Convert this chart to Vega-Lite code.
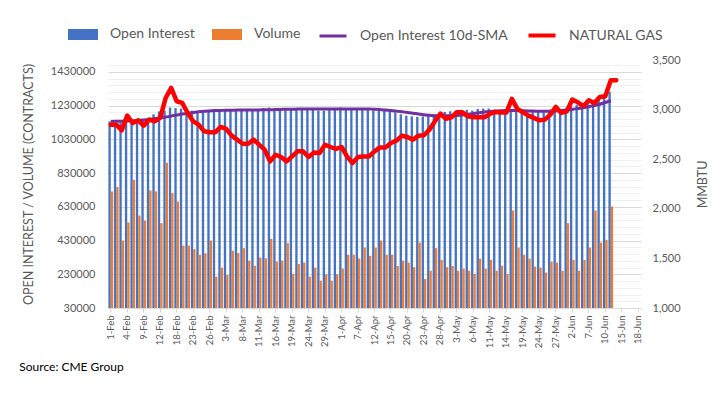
{
  "$schema": "https://vega.github.io/schema/vega-lite/v6.json",
  "autosize": {"type": "none"},
  "padding": {"left": 108, "top": 60, "right": 87, "bottom": 88},
  "width": 533,
  "height": 248,
  "background": "white",
  "config": {"font": "Lato", "view": {"stroke": null}, "axis": {"labelOverlap": false}},
  "title": {"text": "Source: CME Group", "orient": "bottom", "anchor": "start", "frame": "bounds", "font": "Lato", "fontSize": 12, "fontWeight": "normal", "color": "#000000", "dx": -3, "offset": 14},
  "data": {"values": [
    {"d":"1-Feb","oi":1136000,"vol":721000,"sma":1136000,"gas":2848},
    {"d":"2-Feb","oi":1130000,"vol":747000,"sma":1137000,"gas":2848},
    {"d":"3-Feb","oi":1128000,"vol":430000,"sma":1137000,"gas":2791},
    {"d":"4-Feb","oi":1140000,"vol":537000,"sma":1138000,"gas":2939},
    {"d":"5-Feb","oi":1145000,"vol":790000,"sma":1140000,"gas":2865},
    {"d":"8-Feb","oi":1150000,"vol":578000,"sma":1142000,"gas":2892},
    {"d":"9-Feb","oi":1148000,"vol":548000,"sma":1145000,"gas":2838},
    {"d":"10-Feb","oi":1152000,"vol":727000,"sma":1148000,"gas":2899},
    {"d":"11-Feb","oi":1178000,"vol":721000,"sma":1152000,"gas":2882},
    {"d":"12-Feb","oi":1195000,"vol":533000,"sma":1157000,"gas":2916},
    {"d":"16-Feb","oi":1200000,"vol":891000,"sma":1162000,"gas":3118},
    {"d":"17-Feb","oi":1218000,"vol":711000,"sma":1168000,"gas":3219},
    {"d":"18-Feb","oi":1215000,"vol":661000,"sma":1174000,"gas":3084},
    {"d":"19-Feb","oi":1212000,"vol":400000,"sma":1180000,"gas":3067},
    {"d":"22-Feb","oi":1205000,"vol":400000,"sma":1185000,"gas":2966},
    {"d":"23-Feb","oi":1200000,"vol":379000,"sma":1189000,"gas":2882},
    {"d":"24-Feb","oi":1198000,"vol":345000,"sma":1193000,"gas":2848},
    {"d":"25-Feb","oi":1200000,"vol":355000,"sma":1196000,"gas":2781},
    {"d":"26-Feb","oi":1198000,"vol":430000,"sma":1198000,"gas":2771},
    {"d":"1-Mar","oi":1200000,"vol":216000,"sma":1200000,"gas":2771},
    {"d":"2-Mar","oi":1205000,"vol":269000,"sma":1201000,"gas":2825},
    {"d":"3-Mar","oi":1205000,"vol":226000,"sma":1202000,"gas":2805},
    {"d":"4-Mar","oi":1205000,"vol":370000,"sma":1202000,"gas":2737},
    {"d":"5-Mar","oi":1205000,"vol":355000,"sma":1203000,"gas":2697},
    {"d":"8-Mar","oi":1208000,"vol":385000,"sma":1203000,"gas":2656},
    {"d":"9-Mar","oi":1205000,"vol":311000,"sma":1203000,"gas":2656},
    {"d":"10-Mar","oi":1205000,"vol":281000,"sma":1204000,"gas":2697},
    {"d":"11-Mar","oi":1210000,"vol":329000,"sma":1204000,"gas":2646},
    {"d":"12-Mar","oi":1215000,"vol":325000,"sma":1205000,"gas":2596},
    {"d":"15-Mar","oi":1218000,"vol":440000,"sma":1205000,"gas":2478},
    {"d":"16-Mar","oi":1212000,"vol":305000,"sma":1206000,"gas":2545},
    {"d":"17-Mar","oi":1212000,"vol":311000,"sma":1207000,"gas":2522},
    {"d":"18-Mar","oi":1212000,"vol":414000,"sma":1208000,"gas":2478},
    {"d":"19-Mar","oi":1210000,"vol":232000,"sma":1208000,"gas":2528},
    {"d":"22-Mar","oi":1208000,"vol":291000,"sma":1209000,"gas":2579},
    {"d":"23-Mar","oi":1205000,"vol":299000,"sma":1209000,"gas":2579},
    {"d":"24-Mar","oi":1205000,"vol":216000,"sma":1210000,"gas":2522},
    {"d":"25-Mar","oi":1205000,"vol":269000,"sma":1210000,"gas":2567},
    {"d":"26-Mar","oi":1200000,"vol":192000,"sma":1210000,"gas":2562},
    {"d":"29-Mar","oi":1200000,"vol":230000,"sma":1210000,"gas":2646},
    {"d":"30-Mar","oi":1205000,"vol":192000,"sma":1210000,"gas":2623},
    {"d":"31-Mar","oi":1210000,"vol":230000,"sma":1210000,"gas":2603},
    {"d":"1-Apr","oi":1218000,"vol":263000,"sma":1210000,"gas":2623},
    {"d":"5-Apr","oi":1215000,"vol":345000,"sma":1210000,"gas":2528},
    {"d":"6-Apr","oi":1210000,"vol":345000,"sma":1210000,"gas":2461},
    {"d":"7-Apr","oi":1208000,"vol":323000,"sma":1210000,"gas":2522},
    {"d":"8-Apr","oi":1205000,"vol":388000,"sma":1210000,"gas":2528},
    {"d":"9-Apr","oi":1205000,"vol":339000,"sma":1210000,"gas":2528},
    {"d":"12-Apr","oi":1205000,"vol":388000,"sma":1208000,"gas":2579},
    {"d":"13-Apr","oi":1200000,"vol":430000,"sma":1206000,"gas":2619},
    {"d":"14-Apr","oi":1198000,"vol":345000,"sma":1203000,"gas":2619},
    {"d":"15-Apr","oi":1195000,"vol":345000,"sma":1200000,"gas":2663},
    {"d":"16-Apr","oi":1190000,"vol":279000,"sma":1197000,"gas":2687},
    {"d":"19-Apr","oi":1178000,"vol":311000,"sma":1193000,"gas":2737},
    {"d":"20-Apr","oi":1170000,"vol":299000,"sma":1189000,"gas":2724},
    {"d":"21-Apr","oi":1166000,"vol":272000,"sma":1185000,"gas":2697},
    {"d":"22-Apr","oi":1163000,"vol":418000,"sma":1180000,"gas":2737},
    {"d":"23-Apr","oi":1165000,"vol":202000,"sma":1176000,"gas":2741},
    {"d":"26-Apr","oi":1170000,"vol":251000,"sma":1172000,"gas":2798},
    {"d":"27-Apr","oi":1175000,"vol":385000,"sma":1170000,"gas":2882},
    {"d":"28-Apr","oi":1185000,"vol":315000,"sma":1169000,"gas":2959},
    {"d":"29-Apr","oi":1192000,"vol":272000,"sma":1169000,"gas":2906},
    {"d":"30-Apr","oi":1196000,"vol":279000,"sma":1170000,"gas":2922},
    {"d":"3-May","oi":1200000,"vol":251000,"sma":1171000,"gas":2973},
    {"d":"4-May","oi":1205000,"vol":263000,"sma":1174000,"gas":2973},
    {"d":"5-May","oi":1205000,"vol":251000,"sma":1178000,"gas":2932},
    {"d":"6-May","oi":1200000,"vol":232000,"sma":1182000,"gas":2922},
    {"d":"7-May","oi":1210000,"vol":323000,"sma":1187000,"gas":2922},
    {"d":"10-May","oi":1212000,"vol":263000,"sma":1192000,"gas":2922},
    {"d":"11-May","oi":1212000,"vol":315000,"sma":1195000,"gas":2956},
    {"d":"12-May","oi":1205000,"vol":251000,"sma":1197000,"gas":2976},
    {"d":"13-May","oi":1200000,"vol":281000,"sma":1199000,"gas":2970},
    {"d":"14-May","oi":1205000,"vol":232000,"sma":1200000,"gas":2970},
    {"d":"17-May","oi":1205000,"vol":608000,"sma":1200000,"gas":3108},
    {"d":"18-May","oi":1200000,"vol":388000,"sma":1200000,"gas":3007},
    {"d":"19-May","oi":1195000,"vol":345000,"sma":1199000,"gas":2973},
    {"d":"20-May","oi":1190000,"vol":323000,"sma":1198000,"gas":2939},
    {"d":"21-May","oi":1193000,"vol":275000,"sma":1197000,"gas":2916},
    {"d":"24-May","oi":1190000,"vol":269000,"sma":1196000,"gas":2892},
    {"d":"25-May","oi":1190000,"vol":240000,"sma":1196000,"gas":2899},
    {"d":"26-May","oi":1195000,"vol":305000,"sma":1197000,"gas":2949},
    {"d":"27-May","oi":1200000,"vol":299000,"sma":1198000,"gas":3027},
    {"d":"28-May","oi":1205000,"vol":251000,"sma":1200000,"gas":2966},
    {"d":"1-Jun","oi":1212000,"vol":533000,"sma":1203000,"gas":2983},
    {"d":"2-Jun","oi":1225000,"vol":315000,"sma":1207000,"gas":3101},
    {"d":"3-Jun","oi":1235000,"vol":251000,"sma":1212000,"gas":3074},
    {"d":"4-Jun","oi":1240000,"vol":315000,"sma":1217000,"gas":3034},
    {"d":"7-Jun","oi":1248000,"vol":388000,"sma":1223000,"gas":3094},
    {"d":"8-Jun","oi":1255000,"vol":608000,"sma":1230000,"gas":3067},
    {"d":"9-Jun","oi":1265000,"vol":418000,"sma":1238000,"gas":3128},
    {"d":"10-Jun","oi":1278000,"vol":434000,"sma":1248000,"gas":3134},
    {"d":"11-Jun","oi":1312000,"vol":632000,"sma":1260000,"gas":3296},
    {"d":"14-Jun","gas":3296}
  ]},
  "encoding": {
    "x": {
      "field": "d", "type": "ordinal", "sort": null,
      "scale": {
        "domain": ["1-Feb","2-Feb","3-Feb","4-Feb","5-Feb","8-Feb","9-Feb","10-Feb","11-Feb","12-Feb","16-Feb","17-Feb","18-Feb","19-Feb","22-Feb","23-Feb","24-Feb","25-Feb","26-Feb","1-Mar","2-Mar","3-Mar","4-Mar","5-Mar","8-Mar","9-Mar","10-Mar","11-Mar","12-Mar","15-Mar","16-Mar","17-Mar","18-Mar","19-Mar","22-Mar","23-Mar","24-Mar","25-Mar","26-Mar","29-Mar","30-Mar","31-Mar","1-Apr","5-Apr","6-Apr","7-Apr","8-Apr","9-Apr","12-Apr","13-Apr","14-Apr","15-Apr","16-Apr","19-Apr","20-Apr","21-Apr","22-Apr","23-Apr","26-Apr","27-Apr","28-Apr","29-Apr","30-Apr","3-May","4-May","5-May","6-May","7-May","10-May","11-May","12-May","13-May","14-May","17-May","18-May","19-May","20-May","21-May","24-May","25-May","26-May","27-May","28-May","1-Jun","2-Jun","3-Jun","4-Jun","7-Jun","8-Jun","9-Jun","10-Jun","11-Jun","14-Jun","15-Jun","16-Jun","17-Jun","18-Jun"],
        "paddingInner": 0.15, "paddingOuter": 0.075
      },
      "axis": {
        "title": null,
        "values": ["1-Feb","4-Feb","9-Feb","12-Feb","18-Feb","23-Feb","26-Feb","3-Mar","8-Mar","11-Mar","16-Mar","19-Mar","24-Mar","29-Mar","1-Apr","7-Apr","12-Apr","15-Apr","20-Apr","23-Apr","28-Apr","3-May","6-May","11-May","14-May","19-May","24-May","27-May","2-Jun","7-Jun","10-Jun","15-Jun","18-Jun"],
        "labelAngle": -90, "labelFont": "Lato", "labelFontSize": 9.5, "labelColor": "#595959", "labelPadding": 3,
        "labelOverlap": false,
        "domainColor": "#d9d9d9", "tickColor": "#d9d9d9", "tickSize": 4, "grid": false
      }
    }
  },
  "layer": [
    {
      "layer": [
        {
          "transform": [{"filter": "isValid(datum.oi)"}, {"fold": ["oi", "vol"], "as": ["k", "v"]}],
          "mark": {"type": "bar", "clip": true},
          "encoding": {
            "xOffset": {"field": "k", "type": "nominal", "scale": {"domain": ["oi", "vol"], "paddingInner": 0, "paddingOuter": 0}},
            "y": {
              "field": "v", "type": "quantitative",
              "scale": {"domain": [30000, 1500000], "zero": false, "nice": false},
              "axis": {
                "title": "OPEN INTEREST / VOLUME (CONTRACTS)",
                "titleFont": "Lato", "titleFontSize": 12.5, "titleFontWeight": "normal", "titleColor": "#595959", "titlePadding": 15,
                "values": [30000,70000,110000,150000,190000,230000,270000,310000,350000,390000,430000,470000,510000,550000,590000,630000,670000,710000,750000,790000,830000,870000,910000,950000,990000,1030000,1070000,1110000,1150000,1190000,1230000,1270000,1310000,1350000,1390000,1430000,1470000],
                "labelExpr": "(datum.value - 30000) % 200000 === 0 ? format(datum.value, 'd') : ''",
                "labelOverlap": false,
                "labelFont": "Lato", "labelFontSize": 11, "labelColor": "#595959", "labelPadding": 13,
                "ticks": false, "tickSize": 0, "domain": false,
                "grid": true,
                "gridColor": {"condition": {"test": "(datum.value - 30000) % 200000 === 0", "value": "#d9d9d9"}, "value": "#f0f0f0"},
                "gridWidth": 1
              }
            },
            "color": {
              "field": "k", "type": "nominal",
              "scale": {"domain": ["oi", "vol", "sma", "gas"], "range": ["#4472C4", "#ED7D31", "#7030A0", "#FF0000"]},
              "legend": {
                "orient": "none", "legendX": -32, "legendY": -33, "direction": "horizontal", "title": null,
                "labelExpr": "datum.value === 'oi' ? 'Open Interest' : datum.value === 'vol' ? 'Volume' : datum.value === 'sma' ? 'Open Interest 10d-SMA' : 'NATURAL GAS'",
                "labelFont": "Lato", "labelFontSize": 14, "labelColor": "#595959", "labelOffset": 20, "columnPadding": 12,
                "symbolSize": 729,
                "encode": {"symbols": {"update": {
                  "shape": {"signal": "datum.value === 'oi' || datum.value === 'vol' ? 'M-1,-0.3H1V0.3H-1Z' : 'M-1,0H1'"},
                  "fill": {"signal": "datum.value === 'oi' ? '#4472C4' : datum.value === 'vol' ? '#ED7D31' : 'transparent'"},
                  "stroke": {"signal": "datum.value === 'sma' ? '#7030A0' : datum.value === 'gas' ? '#FF0000' : 'transparent'"},
                  "strokeWidth": {"signal": "datum.value === 'gas' ? 4 : 3"},
                  "opacity": {"value": 1}
                }}}
              }
            }
          }
        },
        {
          "transform": [{"filter": "isValid(datum.sma)"}],
          "mark": {"type": "line", "strokeWidth": 3, "interpolate": "monotone"},
          "encoding": {
            "y": {
              "field": "sma", "type": "quantitative",
              "scale": {"domain": [30000, 1500000], "zero": false, "nice": false},
              "axis": {
                "title": "OPEN INTEREST / VOLUME (CONTRACTS)",
                "titleFont": "Lato", "titleFontSize": 12.5, "titleFontWeight": "normal", "titleColor": "#595959", "titlePadding": 15,
                "values": [30000,70000,110000,150000,190000,230000,270000,310000,350000,390000,430000,470000,510000,550000,590000,630000,670000,710000,750000,790000,830000,870000,910000,950000,990000,1030000,1070000,1110000,1150000,1190000,1230000,1270000,1310000,1350000,1390000,1430000,1470000],
                "labelExpr": "(datum.value - 30000) % 200000 === 0 ? format(datum.value, 'd') : ''",
                "labelOverlap": false,
                "labelFont": "Lato", "labelFontSize": 11, "labelColor": "#595959", "labelPadding": 13,
                "ticks": false, "tickSize": 0, "domain": false,
                "grid": true,
                "gridColor": {"condition": {"test": "(datum.value - 30000) % 200000 === 0", "value": "#d9d9d9"}, "value": "#f0f0f0"},
                "gridWidth": 1
              }
            },
            "color": {"datum": "sma"}
          }
        }
      ]
    },
    {
      "mark": {"type": "line", "strokeWidth": 4.5, "strokeJoin": "round", "strokeCap": "round"},
      "encoding": {
        "y": {
          "field": "gas", "type": "quantitative",
          "scale": {"domain": [1000, 3500], "zero": false, "nice": false},
          "axis": {
            "orient": "right", "title": "MMBTU", "titleAngle": 270,
            "titleFont": "Lato", "titleFontSize": 12.5, "titleFontWeight": "normal", "titleColor": "#595959", "titlePadding": 29,
            "values": [1000, 1500, 2000, 2500, 3000, 3500], "format": ",d",
            "labelFont": "Lato", "labelFontSize": 11, "labelColor": "#595959", "labelPadding": 11,
            "ticks": false, "tickSize": 0, "domain": false, "grid": false
          }
        },
        "color": {"datum": "gas"}
      }
    }
  ],
  "resolve": {"scale": {"y": "independent"}}
}
